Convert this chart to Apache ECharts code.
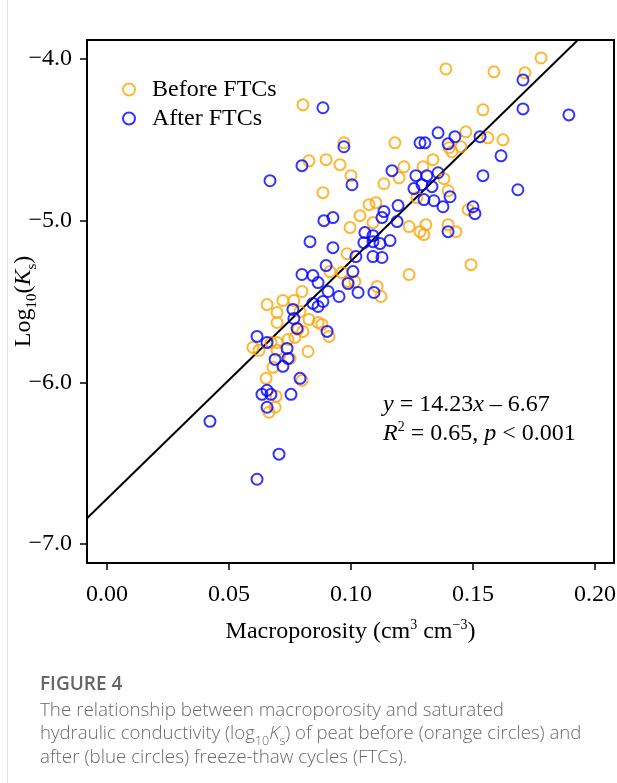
<!DOCTYPE html>
<html>
<head>
<meta charset="utf-8">
<script src="https://cdn.jsdelivr.net/npm/echarts@6/dist/echarts.min.js"></script>
<style>
html,body{margin:0;padding:0;background:#fff;}
#chart{width:617px;height:783px;}
</style>
</head>
<body>
<div id="chart"></div>
<script>
// ---- Data ----
var seriesNames = ['Before FTCs', 'After FTCs'];
var beforeFTCs = [
  [0.0803,-4.284],[0.0971,-4.519],[0.0828,-4.630],[0.0898,-4.623],[0.0955,-4.654],[0.1000,-4.722],
  [0.1389,-4.062],[0.1586,-4.080],[0.1713,-4.086],[0.1779,-3.994],[0.1541,-4.315],[0.1471,-4.451],
  [0.1561,-4.488],[0.1623,-4.500],[0.1180,-4.519],[0.1402,-4.549],[0.1414,-4.574],[0.1451,-4.543],
  [0.1336,-4.623],[0.1217,-4.667],[0.1295,-4.667],[0.1197,-4.735],[0.1381,-4.741],[0.1135,-4.772],
  [0.0885,-4.827],[0.1398,-4.815],[0.1270,-4.858],[0.1074,-4.901],[0.1102,-4.889],[0.1480,-4.932],
  [0.1037,-4.969],[0.1090,-5.012],[0.0996,-5.043],[0.1238,-5.037],[0.1307,-5.025],[0.1283,-5.068],
  [0.1299,-5.086],[0.1398,-5.025],[0.1430,-5.068],[0.1492,-5.272],[0.1238,-5.333],[0.0984,-5.204],
  [0.0914,-5.315],[0.0963,-5.321],[0.0988,-5.377],[0.1016,-5.377],[0.1107,-5.407],[0.1123,-5.469],
  [0.0656,-5.519],[0.0721,-5.494],[0.0766,-5.494],[0.0799,-5.438],[0.0697,-5.568],[0.0697,-5.630],
  [0.0791,-5.562],[0.0828,-5.611],[0.0865,-5.630],[0.0881,-5.642],[0.0910,-5.716],[0.0783,-5.673],
  [0.0803,-5.685],[0.0742,-5.735],[0.0770,-5.722],[0.0598,-5.784],[0.0623,-5.802],[0.0672,-5.753],
  [0.0697,-5.753],[0.0697,-5.802],[0.0824,-5.809],[0.0750,-5.852],[0.0680,-5.907],[0.0652,-5.975],
  [0.0799,-5.988],[0.0693,-6.086],[0.0689,-6.154],[0.0664,-6.185]
];
var afterFTCs = [
  [0.0885,-4.302],[0.0971,-4.543],[0.0799,-4.660],[0.1004,-4.778],[0.0668,-4.753],[0.0889,-5.000],
  [0.0926,-4.981],[0.1705,-4.130],[0.1705,-4.309],[0.1893,-4.346],[0.1357,-4.457],[0.1426,-4.481],
  [0.1529,-4.481],[0.1283,-4.519],[0.1303,-4.519],[0.1398,-4.525],[0.1615,-4.599],[0.1168,-4.691],
  [0.1266,-4.722],[0.1311,-4.722],[0.1357,-4.704],[0.1541,-4.722],[0.1258,-4.802],[0.1291,-4.778],
  [0.1332,-4.790],[0.1406,-4.852],[0.1684,-4.809],[0.1299,-4.870],[0.1340,-4.877],[0.1377,-4.914],
  [0.1193,-4.907],[0.1500,-4.914],[0.1508,-4.957],[0.1135,-4.944],[0.1127,-4.981],[0.1189,-5.006],
  [0.1398,-5.068],[0.1057,-5.074],[0.1090,-5.093],[0.0832,-5.130],[0.0926,-5.167],[0.1053,-5.136],
  [0.1090,-5.130],[0.1119,-5.142],[0.1160,-5.123],[0.1020,-5.222],[0.1090,-5.222],[0.1127,-5.228],
  [0.0898,-5.278],[0.1008,-5.315],[0.0799,-5.333],[0.0844,-5.340],[0.0865,-5.383],[0.0988,-5.389],
  [0.0906,-5.438],[0.0951,-5.469],[0.1029,-5.444],[0.1094,-5.444],[0.0844,-5.512],[0.0865,-5.531],
  [0.0885,-5.500],[0.0762,-5.549],[0.0766,-5.605],[0.0779,-5.667],[0.0902,-5.685],[0.0615,-5.716],
  [0.0656,-5.753],[0.0738,-5.790],[0.0689,-5.858],[0.0742,-5.852],[0.0721,-5.901],[0.0791,-5.975],
  [0.0635,-6.074],[0.0656,-6.049],[0.0672,-6.074],[0.0754,-6.074],[0.0656,-6.154],[0.0422,-6.241],
  [0.0705,-6.444],[0.0615,-6.599]
];
var xTicks = [0.00, 0.05, 0.10, 0.15, 0.20];
var yTicks = [-7, -6, -5, -4];
var xRange = [-0.0082, 0.2078];
var yRange = [-7.117, -3.883];
// fitted line as drawn in the figure
var lineSlope = [14.7];
var lineIntercept = [-6.72];

// ---- Build ----
var fitLine = [xRange[0], xRange[1]].map(function (x) { return [x, lineIntercept[0] + lineSlope[0] * x]; });
var serif = '"Liberation Serif", "Times New Roman", serif';
var sans = '"Open Sans", "Noto Sans", sans-serif';

var chart = echarts.init(document.getElementById('chart'), null, { renderer: 'canvas' });
chart.setOption({
  backgroundColor: '#fff',
  animation: false,
  grid: { left: 87, top: 40, right: 3, bottom: 220, show: true, borderColor: '#000', borderWidth: 2, backgroundColor: 'transparent', outerBoundsMode: 'none', containLabel: false },
  legend: {
    data: seriesNames,
    orient: 'vertical',
    left: 122, top: 75,
    padding: 0,
    itemGap: 0,
    itemWidth: 12, itemHeight: 12,
    icon: 'circle',
    textStyle: { fontFamily: serif, fontSize: 24, color: '#000', lineHeight: 29, padding: [0, 0, 0, 12] }
  },
  xAxis: {
    type: 'value', min: xRange[0], max: xRange[1],
    axisLine: { show: true, onZero: false, lineStyle: { color: '#000', width: 2 } },
    splitLine: { show: false },
    axisTick: { show: true, customValues: xTicks, length: 7, lineStyle: { color: '#000', width: 1.5 } },
    axisLabel: { customValues: xTicks, formatter: function (v) { return v.toFixed(2); }, fontFamily: serif, fontSize: 24, color: '#000', margin: 20 },
    name: '{n|Macroporosity (cm}{sup|3}{n| cm}{sup|\u22123}{n|)}',
    nameLocation: 'middle', nameGap: 53, nameMoveOverlap: false,
    nameTextStyle: {
      rich: {
        n: { fontFamily: serif, fontSize: 24, color: '#000', lineHeight: 28, verticalAlign: 'bottom' },
        sup: { fontFamily: serif, fontSize: 14, color: '#000', lineHeight: 16, verticalAlign: 'top', padding: [2, 0, 0, 0] }
      }
    }
  },
  yAxis: {
    type: 'value', min: yRange[0], max: yRange[1],
    axisLine: { show: true, onZero: false, lineStyle: { color: '#000', width: 2 } },
    splitLine: { show: false },
    axisTick: { show: true, customValues: yTicks, length: 7, lineStyle: { color: '#000', width: 1.5 } },
    axisLabel: { customValues: yTicks, formatter: function (v) { return v.toFixed(1).replace('-', '\u2212'); }, fontFamily: serif, fontSize: 24, color: '#000', margin: 15 },
    name: '{n|Log}{sub|10}{n|(}{ni|K}{sub|s}{n|)}',
    nameLocation: 'middle', nameGap: 47, nameRotate: 90, nameMoveOverlap: false,
    nameTextStyle: {
      rich: {
        n: { fontFamily: serif, fontSize: 24, color: '#000', lineHeight: 28, verticalAlign: 'top' },
        ni: { fontFamily: serif, fontSize: 24, fontStyle: 'italic', color: '#000', lineHeight: 28, verticalAlign: 'top' },
        sub: { fontFamily: serif, fontSize: 15, color: '#000', lineHeight: 16, verticalAlign: 'bottom', padding: [0, 0, 0, 0] }
      }
    }
  },
  series: [
    {
      name: seriesNames[0], type: 'scatter', data: beforeFTCs,
      symbol: 'circle', symbolSize: 11,
      itemStyle: { color: 'rgba(0,0,0,0)', borderColor: '#FFA500', borderWidth: 2 },
      z: 3
    },
    {
      name: seriesNames[1], type: 'scatter', data: afterFTCs,
      symbol: 'circle', symbolSize: 11,
      itemStyle: { color: 'rgba(0,0,0,0)', borderColor: '#0000FF', borderWidth: 2 },
      z: 4
    },
    {
      type: 'line', data: fitLine, symbol: 'none', clip: true,
      lineStyle: { color: '#000', width: 2 }, silent: true, z: 2
    }
  ],
  graphic: [
    { type: 'line', shape: { x1: 7.5, y1: 0, x2: 7.5, y2: 783 }, style: { stroke: '#e3e3e3', lineWidth: 1 } },
    {
      type: 'text', left: 383, top: 393,
      style: {
        text: '{i|y}{n| = 14.23}{i|x}{n| \u2013 6.67}',
        rich: {
          n: { fontFamily: serif, fontSize: 24, fill: '#000' },
          i: { fontFamily: serif, fontSize: 24, fontStyle: 'italic', fill: '#000' }
        }
      }
    },
    {
      type: 'text', left: 383, top: 418,
      style: {
        text: '{i|R}{sup|2}{n| = 0.65, }{i|p}{n| < 0.001}',
        rich: {
          n: { fontFamily: serif, fontSize: 24, fill: '#000', lineHeight: 28, verticalAlign: 'bottom' },
          i: { fontFamily: serif, fontSize: 24, fontStyle: 'italic', fill: '#000', lineHeight: 28, verticalAlign: 'bottom' },
          sup: { fontFamily: serif, fontSize: 14, fill: '#000', lineHeight: 16, verticalAlign: 'top', padding: [2, 0, 0, 0] }
        }
      }
    },
    {
      type: 'text', left: 40, top: 675,
      style: { text: 'FIGURE 4', fontFamily: sans, fontSize: 19, fontWeight: 600, fill: '#666' }
    },
    {
      type: 'text', left: 40, top: 701,
      style: { text: 'The relationship between macroporosity and saturated', fontFamily: sans, fontSize: 18.8, fontWeight: 300, fill: '#6a6a6a' }
    },
    {
      type: 'text', left: 40, top: 724,
      style: {
        text: '{n|hydraulic conductivity (log}{sub|10}{ni|K}{sub|s}{n|) of peat before (orange circles) and}',
        rich: {
          n: { fontFamily: sans, fontSize: 18.6, fontWeight: 300, fill: '#6a6a6a', lineHeight: 24, verticalAlign: 'top' },
          ni: { fontFamily: sans, fontSize: 18.6, fontWeight: 300, fontStyle: 'italic', fill: '#6a6a6a', lineHeight: 24, verticalAlign: 'top' },
          sub: { fontFamily: sans, fontSize: 12.5, fontWeight: 300, fill: '#6a6a6a', lineHeight: 15, verticalAlign: 'bottom' }
        }
      }
    },
    {
      type: 'text', left: 40, top: 748,
      style: { text: 'after (blue circles) freeze-thaw cycles (FTCs).', fontFamily: sans, fontSize: 18.8, fontWeight: 300, fill: '#6a6a6a' }
    }
  ]
});
</script>
</body>
</html>
